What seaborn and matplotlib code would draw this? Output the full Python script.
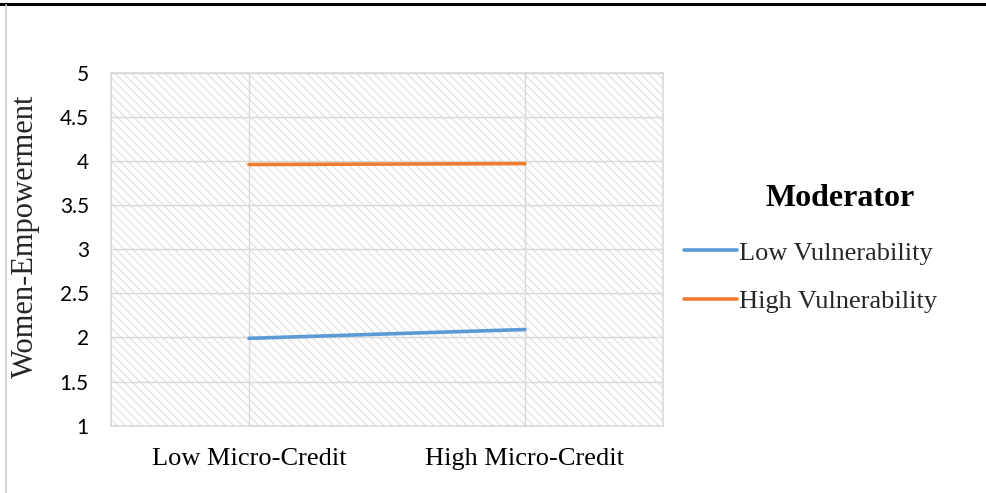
import matplotlib
matplotlib.use("Agg")
import matplotlib.pyplot as plt
import seaborn as sns
import pandas as pd
from matplotlib.lines import Line2D

# ---- data ----
categories = ["Low Micro-Credit", "High Micro-Credit"]
series_names = ["Low Vulnerability", "High Vulnerability"]
low_vuln = [1.99, 2.09]
high_vuln = [3.96, 3.97]
y_ticks = [1, 1.5, 2, 2.5, 3, 3.5, 4, 4.5, 5]
y_tick_labels = ["1", "1.5", "2", "2.5", "3", "3.5", "4", "4.5", "5"]

df = pd.DataFrame({
    "x": list(range(len(categories))) * 2,
    "Women-Empowerment": low_vuln + high_vuln,
    "Moderator": [series_names[0]] * 2 + [series_names[1]] * 2,
})

sns.set_theme(style="white")
plt.rcParams["hatch.color"] = "#e2e2e2"
plt.rcParams["hatch.linewidth"] = 0.9

fig = plt.figure(figsize=(9.87, 4.93), dpi=100)
ax = fig.add_axes([0.1125, 0.1365, 0.5592, 0.716])

ax.set_facecolor("white")
ax.patch.set_hatch("\\" * 4)
ax.patch.set_edgecolor("#e2e2e2")

sns.lineplot(data=df, x="x", y="Women-Empowerment", hue="Moderator",
             palette=["#5B9BD5", "#ED7D31"], linewidth=2.6, ax=ax,
             legend=False)

ax.set_xlim(-0.5, 1.5)
ax.set_ylim(1, 5)
ax.set_xticks(range(len(categories)))
ax.set_xticklabels(categories, fontfamily="Liberation Serif", fontsize=19)
ax.set_yticks(y_ticks)
ax.set_yticklabels(y_tick_labels, fontfamily="Lato", fontsize=15)
ax.tick_params(axis="both", length=0, colors="black")
ax.tick_params(axis="y", pad=16)
ax.tick_params(axis="x", pad=16)
ax.set_xlabel("")
ax.set_ylabel("Women-Empowerment", fontfamily="Liberation Serif", fontsize=22)
ax.yaxis.set_label_coords(-0.129, 0.537)
ax.grid(True, color="#d9d9d9", linewidth=1)
ax.set_axisbelow(True)
for s in ax.spines.values():
    s.set_color("#d9d9d9")
    s.set_linewidth(1.2)

handles = [Line2D([], [], color="#5B9BD5", linewidth=2.6),
           Line2D([], [], color="#ED7D31", linewidth=2.6)]
leg = fig.legend(handles, series_names,
                 loc="center left", bbox_to_anchor=(0.693, 0.438),
                 frameon=False, handlelength=2.0, handletextpad=0.1,
                 labelspacing=0.94, borderpad=0, borderaxespad=0,
                 prop={"family": "Liberation Serif", "size": 19})
fig.text(840 / 987, 1 - 199 / 493, "Moderator", ha="center", va="center",
         fontfamily="Liberation Serif", fontsize=23, fontweight="bold",
         color="black")

# frame lines of the original document
fig.add_artist(Line2D([0, 1], [0.992, 0.992], transform=fig.transFigure,
                      color="black", linewidth=2.2))
fig.add_artist(Line2D([0.006, 0.006], [0, 0.99], transform=fig.transFigure,
                      color="#d0d0d0", linewidth=1.2))

fig.savefig("out.png", dpi=100)
